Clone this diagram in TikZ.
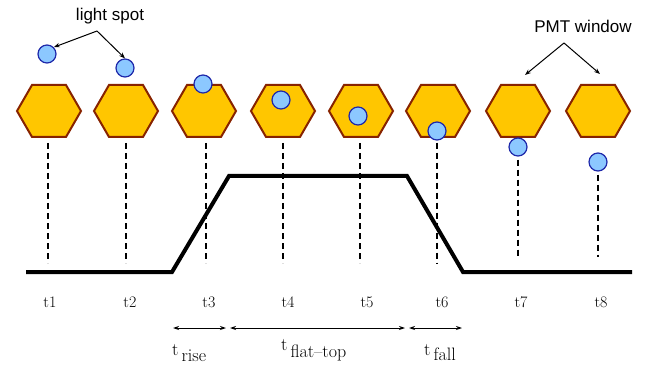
\documentclass[tikz,border=0pt]{standalone}
\usepackage{fontspec}
\newfontfamily\annsans{Liberation Sans}
\usetikzlibrary{arrows.meta}
\definecolor{hexfill}{RGB}{255,198,0}
\definecolor{hexedge}{RGB}{135,35,0}
\definecolor{spotfill}{RGB}{140,200,255}
\definecolor{spotedge}{RGB}{30,40,170}
\begin{document}
\begin{tikzpicture}[x=1pt,y=-1pt,
  hexwin/.style={draw=hexedge, fill=hexfill, line width=2pt, line join=miter},
  spot/.style={circle, draw=spotedge, fill=spotfill, line width=1.2pt, minimum size=18pt, inner sep=0pt},
  guide/.style={dash pattern=on 6pt off 4pt, line width=1.2pt},
  pulse/.style={line width=4pt, line join=miter},
  tlabel/.style={font=\fontsize{16}{18}\selectfont, inner sep=0pt, anchor=base},
  durlabel/.style={font=\fontsize{18}{20}\selectfont, inner sep=0pt, anchor=base west},
  ann/.style={font=\annsans\fontsize{17}{19}\selectfont, inner sep=0pt},
  annarrow/.style={-{Stealth[length=6pt,width=4.5pt]}, line width=1pt},
  durarrow/.style={{Stealth[length=6pt,width=4pt]}-{Stealth[length=6pt,width=4pt]}, line width=1pt}
]
\useasboundingbox (0,0) rectangle (652,371);
% PMT windows
\foreach \x [count=\i] in {49,126,204,283,361,438,518,598}{
  \draw[hexwin] (\x-32,111) -- (\x-17,85) -- (\x+17,85) -- (\x+32,111) -- (\x+17,137) -- (\x-17,137) -- cycle;
  \coordinate (h\i) at (\x,141);
}
% dashed guides
\foreach \x [count=\i] in {48,126,206,283,360}{
  \coordinate (b\i) at (\x,263);
  \draw[guide] (\x,143) -- (b\i);
}
% light spots
\foreach \x/\y [count=\i] in {47/54,125/68,203/84,281/100,358/116,437/131,518/147,598/162}{
  \node[spot] (s\i) at (\x,\y) {};
}
\coordinate (b6) at (437,263);
\coordinate (b7) at (518,257);
\coordinate (b8) at (598,257);
\draw[guide] ([yshift=-2pt]s6.south) -- (b6);
\draw[guide] ([yshift=-3pt]s7.south) -- (b7);
\draw[guide] ([yshift=-3pt]s8.south) -- (b8);
% pulse
\draw[pulse] (26,272) -- (172,272) -- (229,176) -- (407,176) -- (463,272) -- (632,272);
% time labels
\foreach \x [count=\i] in {50,130,209,288,367,442,521,601}{
  \node[tlabel] (t\i) at (\x,307) {t\i};
}
% duration arrows
\coordinate (r1) at (173,328);
\coordinate (r2) at (226,328);
\coordinate (f1) at (230,328);
\coordinate (f2) at (405,328);
\coordinate (l1) at (409,328);
\coordinate (l2) at (462,328);
\draw[durarrow] (r1) -- (r2);
\draw[durarrow] (f1) -- (f2);
\draw[durarrow] (l1) -- (l2);
\node[durlabel] (trise) at (172,355) {t\hspace{3pt}\raisebox{-6pt}{rise}};
\node[durlabel] (tflat) at (281,350) {t\hspace{3pt}\raisebox{-7pt}{flat--top}};
\node[durlabel] (tfall) at (424,355) {t\hspace{3pt}\raisebox{-5pt}{fall}};
% annotations
\node[ann, anchor=base] (ls) at (110,21) {light spot};
\coordinate (lsj) at (97,31);
\draw[annarrow] (lsj) -- (s1.north east);
\draw[annarrow] (lsj) -- (s2.north);
\node[ann, anchor=base] (pmt) at (583,33) {PMT window};
\coordinate (pmj) at (564,43);
\coordinate (pmA) at (525,75);
\coordinate (pmB) at (600,74);
\draw[annarrow] (pmj) -- (pmA);
\draw[annarrow] (pmj) -- (pmB);
\end{tikzpicture}
\end{document}
